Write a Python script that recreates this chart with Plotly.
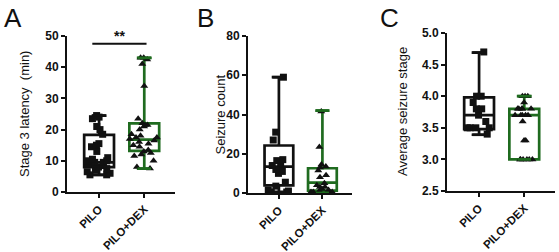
import plotly.graph_objects as go

groups = ["PILO", "PILO+DEX"]

# Panel A: Stage 3 latency (min)
a_pilo = [24.5, 24, 23.5, 21, 20, 18.5, 15.5, 15, 14.5, 13, 11, 10.5, 10, 10, 9.5, 9.5, 9, 9, 8.5, 8, 7.5, 7, 6.5, 6, 5.5, 5.5]
a_dex = [43, 43, 42.5, 41, 34, 23.5, 22, 21.5, 21.5, 21, 20, 18.5, 18, 17.5, 17.5, 17, 16.5, 16, 15.5, 15, 14.5, 13.5, 13, 12.5, 12, 11.5, 10, 8, 7.5]
# box stats [min, q1, median, q3, max]
a_pilo_box = [5.5, 8.0, 9.5, 18.3, 24.5]
a_dex_box = [7.5, 13.2, 16.8, 22.0, 43.0]

# Panel B: Seizure count
b_pilo = [59, 31, 27, 17, 16.5, 15.5, 14, 12, 11, 10, 5.5, 3.5, 1.5, 1, 0.5, 0.5]
b_dex = [41.5, 23.5, 14.5, 13.5, 13, 11.5, 9, 8, 5, 4, 3, 3, 2, 1.5, 1, 0.5, 0.5, 0.5, 0]
b_pilo_box = [0.5, 3.9, 13.4, 24.2, 59.0]
b_dex_box = [0.0, 1.2, 5.3, 12.6, 42.0]

# Panel C: Average seizure stage
c_pilo = [4.7, 4.0, 4.0, 3.9, 3.8, 3.8, 3.7, 3.6, 3.5, 3.5, 3.5, 3.5, 3.4]
c_dex = [4.0, 4.0, 4.0, 3.9, 3.8, 3.8, 3.8, 3.8, 3.8, 3.7, 3.7, 3.7, 3.7, 3.7, 3.6, 3.3, 3.3, 3.0, 3.0, 3.0, 3.0, 3.0, 3.0]
c_pilo_box = [3.39, 3.48, 3.70, 3.98, 4.69]
c_dex_box = [3.0, 3.0, 3.7, 3.8, 4.0]

y_titles = ["Stage 3 latency  (min)", "Seizure count", "Average seizure stage"]
panel_letters = ["A", "B", "C"]
y_ranges = [[0, 50], [0, 80], [2.5, 5.0]]
y_dticks = [10, 20, 0.5]
y_tickformats = ["d", "d", ".1f"]

W, H = 559, 252
BLACK = "#111111"
GREEN = "#1f6b1f"
FONT = "Liberation Sans, Arial, sans-serif"

# pixel layout of each panel: (x_left, x_right, y_top, y_bottom)
panels_px = [(67, 175, 36, 192), (248, 352, 36, 193), (447, 555, 33, 191)]
title_x_px = [25, 220, 402]
letter_x_px = [13, 205, 389]

data = [
    (a_pilo, a_dex, a_pilo_box, a_dex_box),
    (b_pilo, b_dex, b_pilo_box, b_dex_box),
    (c_pilo, c_dex, c_pilo_box, c_dex_box),
]

fig = go.Figure()
annotations = []
shapes = []
x_range = [-0.71, 1.68]
box_w = 0.66
cap_half = 0.15

for i, (pilo, dex, pbox, dbox) in enumerate(data):
    sfx = "" if i == 0 else str(i + 1)
    xa, ya = "x" + sfx, "y" + sfx
    for xpos, pts, st, col, sym in [(0, pilo, pbox, BLACK, "square"), (1, dex, dbox, GREEN, "triangle-up")]:
        fig.add_trace(go.Box(
            x=[xpos], q1=[st[1]], median=[st[2]], q3=[st[3]],
            lowerfence=[st[0]], upperfence=[st[4]],
            width=box_w, fillcolor="white", line=dict(color=col, width=2.7),
            boxpoints=False, showlegend=False, hoverinfo="skip",
            xaxis=xa, yaxis=ya,
        ))
        # whisker caps at min and max
        for v in (st[0], st[4]):
            fig.add_trace(go.Scatter(
                x=[xpos - cap_half, xpos + cap_half], y=[v, v], mode="lines",
                line=dict(color=col, width=2.7), showlegend=False, hoverinfo="skip",
                xaxis=xa, yaxis=ya,
            ))
        # individual points
        fig.add_trace(go.Box(
            x=[xpos] * len(pts), y=pts, boxpoints="all", jitter=1.0, pointpos=0,
            width=box_w * 1.05, fillcolor="rgba(0,0,0,0)",
            line=dict(color="rgba(0,0,0,0)", width=0),
            marker=dict(symbol=sym, color=BLACK, size=7),
            showlegend=False, hoverinfo="skip", xaxis=xa, yaxis=ya,
        ))

    xl, xr, yt, yb = panels_px[i]
    fig.update_layout(**{
        "xaxis" + sfx: dict(
            domain=[xl / W, xr / W], range=x_range, anchor=ya, automargin=False,
            tickmode="array", tickvals=[0, 1], ticktext=groups, tickangle=-45,
            showline=True, linecolor=BLACK, linewidth=2, ticks="outside",
            ticklen=4, tickwidth=2, tickcolor=BLACK, showgrid=False, zeroline=False,
            tickfont=dict(family=FONT, size=11.5, color=BLACK, weight="bold"),
        ),
        "yaxis" + sfx: dict(
            domain=[1 - yb / H, 1 - yt / H], range=y_ranges[i], anchor=xa, automargin=False,
            dtick=y_dticks[i], tickformat=y_tickformats[i],
            showline=True, linecolor=BLACK, linewidth=2, ticks="outside",
            ticklen=4, tickwidth=2, tickcolor=BLACK, showgrid=False, zeroline=False,
            tickfont=dict(family=FONT, size=12, color=BLACK, weight="bold"),
        ),
    })
    annotations.append(dict(
        x=title_x_px[i] / W, y=1 - ((yt + yb) / 2) / H, xref="paper", yref="paper",
        xanchor="center", yanchor="middle",
        text=y_titles[i], textangle=-90, showarrow=False,
        font=dict(family=FONT, size=13, color=BLACK),
    ))
    annotations.append(dict(
        x=letter_x_px[i] / W, y=1 - 18 / H, xref="paper", yref="paper",
        xanchor="center", yanchor="middle",
        text=panel_letters[i], showarrow=False,
        font=dict(family=FONT, size=26, color=BLACK),
    ))

# significance bar in panel A
shapes.append(dict(type="line", xref="x", yref="y", x0=-0.15, x1=1.05, y0=47.5, y1=47.5,
                   line=dict(color=BLACK, width=2)))
annotations.append(dict(x=0.45, y=47.5, xref="x", yref="y", text="**", showarrow=False,
                        xanchor="center", yanchor="bottom", yshift=-2,
                        font=dict(family=FONT, size=14, color=BLACK, weight="bold")))

fig.update_layout(
    width=W, height=H, margin=dict(l=0, r=0, t=0, b=0),
    paper_bgcolor="white", plot_bgcolor="white",
    boxmode="overlay", annotations=annotations, shapes=shapes,
)

fig.write_html("out.html", config={"displayModeBar": False},
               post_script="document.body.style.margin='0px';document.body.style.overflow='hidden';")
